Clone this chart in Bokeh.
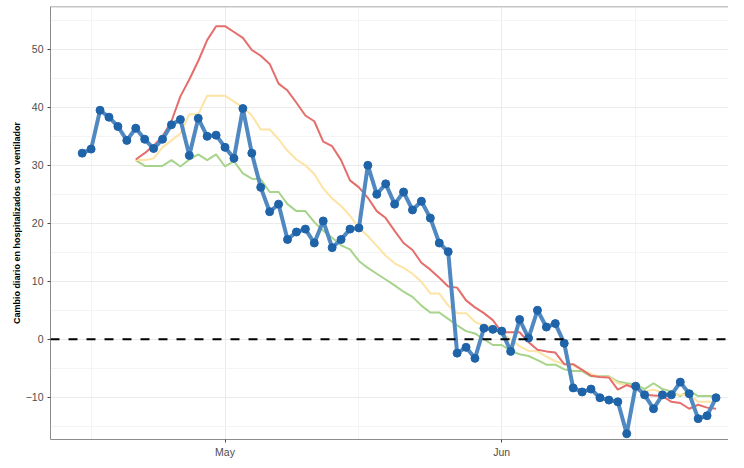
import pandas as pd
from bokeh.plotting import figure
from bokeh.models import FixedTicker, DatetimeTickFormatter, Span, Range1d
from bokeh.embed import file_html
from bokeh.resources import INLINE

# Daily change (blue, observed) from Apr 15 to Jun 25
obs_start = "2020-04-15"
observed = [32.1, 32.8, 39.5, 38.3, 36.7, 34.3, 36.4, 34.5, 32.9, 34.5, 37.0, 37.9, 31.7, 38.1, 35.0, 35.2,
            33.1, 31.2, 39.8, 32.1, 26.2, 22.0, 23.3, 17.2, 18.5, 19.0,
            16.6, 20.4, 15.8, 17.2, 19.0, 19.2, 30.0, 25.0, 26.8, 23.3,
            25.4, 22.3, 23.8, 20.9, 16.6, 15.1, -2.4, -1.4, -3.3, 1.9, 1.7,
            1.4, -2.1, 3.4, 0.2, 5.0, 2.1, 2.7, -0.7, -8.4, -9.1,
            -8.6, -10.1, -10.5, -10.8, -16.3, -8.1, -9.6, -12.0, -9.6, -9.6,
            -7.4, -9.4, -13.7, -13.2, -10.1]

# Smoothed / projected series from Apr 21 to Jun 25
ser_start = "2020-04-21"
red = [31.0, 32.1, 33.4, 35.0, 37.6, 41.9, 44.8, 48.0, 51.6, 54.0,
       54.0, 53.0, 52.0, 49.9, 48.9, 47.5, 44.1, 42.9, 40.8, 38.6,
       37.6, 34.1, 33.3, 30.9, 27.4, 26.2, 24.4, 22.1, 20.9, 18.7,
       16.6, 15.4, 13.2, 12.0, 10.6, 9.1, 8.9, 6.7, 5.5, 4.5, 3.3,
       1.2, 1.2, 1.2, -0.5, -1.8, -2.1, -2.3, -4.3, -4.3, -5.3,
       -6.3, -6.5, -6.6, -8.7, -7.9, -8.5, -9.6, -9.7, -9.8, -10.8,
       -11.0, -12.0, -11.3, -11.8, -12.0]
yellow = [30.9, 30.9, 31.2, 33.1, 34.3, 35.5, 38.8, 38.8, 42.0, 42.0,
          42.0, 41.0, 40.0, 38.6, 36.2, 36.2, 34.5, 32.5, 31.0, 30.0,
          28.5, 26.0, 24.3, 23.0, 21.3, 19.2, 17.8, 16.1, 14.4, 13.1,
          12.3, 11.3, 9.9, 7.9, 7.9, 5.8, 4.5, 4.5, 3.0, 2.4, 2.1,
          1.0, 0.0, -1.2, -2.0, -2.1, -3.0, -3.8, -4.3, -4.5, -5.3,
          -6.0, -6.5, -6.5, -7.6, -7.9, -8.3, -9.0, -8.7, -9.2, -9.5,
          -9.6, -9.6, -10.8, -10.8, -10.8]
green = [30.9, 29.9, 29.9, 29.9, 30.9, 29.8, 31.0, 31.9, 30.9, 31.9,
         29.8, 30.7, 28.6, 27.7, 27.6, 25.4, 25.4, 23.3, 22.1, 22.1,
         20.2, 18.7, 17.5, 16.2, 15.5, 13.5, 12.3, 11.3, 10.3, 9.3,
         8.2, 7.3, 5.8, 4.6, 4.6, 3.5, 2.4, 1.4, 1.0, 0.0, -1.0,
         -1.0, -2.0, -2.6, -2.9, -3.6, -4.4, -4.4, -5.2, -5.5, -5.5,
         -6.4, -6.4, -6.4, -7.3, -7.6, -7.8, -8.6, -7.6, -8.6, -9.0,
         -9.8, -8.9, -9.8, -9.8, -9.8]

y_ticks = [-10, 0, 10, 20, 30, 40, 50]
y_minor = [-15, -5, 5, 15, 25, 35, 45, 55]
x_tick_dates = ["2020-05-01", "2020-06-01"]
x_minor_dates = ["2020-04-16", "2020-05-16", "2020-06-16"]
y_label = "Cambio diario en hospitalizados con ventilador"

obs_dates = pd.date_range(obs_start, periods=len(observed), freq="D")
ser_dates = pd.date_range(ser_start, periods=len(red), freq="D")

def ms(d):
    return pd.Timestamp(d).value / 1e6

day = 86400000.0
may1 = ms("2020-05-01")

p = figure(width=728, height=460, x_axis_type="datetime", output_backend="svg",
           toolbar_location=None, min_border_left=50, min_border_right=0,
           min_border_top=6, min_border_bottom=18)
p.x_range = Range1d(may1 - 19.55 * day, may1 + 56.4 * day)
p.y_range = Range1d(-17.3, 57.4)

p.background_fill_color = "white"
p.border_fill_color = "white"
p.outline_line_color = None

xt = FixedTicker(ticks=[ms(d) for d in x_tick_dates], minor_ticks=[ms(d) for d in x_minor_dates])
p.xaxis.ticker = xt
p.xaxis.formatter = DatetimeTickFormatter(months="%b", days="%b", years="%b")
p.yaxis.ticker = FixedTicker(ticks=y_ticks, minor_ticks=y_minor)

for ax in (p.xaxis, p.yaxis):
    ax.axis_line_color = "#8c8c8c"
    ax.axis_line_width = 1
    ax.major_tick_line_color = "#4d4d4d"
    ax.major_tick_out = 3
    ax.major_tick_in = 0
    ax.minor_tick_line_color = None
    ax.major_label_text_color = "#4d4d4d"
    ax.major_label_text_font = "Liberation Sans"
    ax.major_label_text_font_size = "10.5px"
    ax.major_label_standoff = 3
p.xaxis.major_label_standoff = 2

p.yaxis.axis_label = y_label
p.yaxis.axis_label_text_font = "Liberation Sans"
p.yaxis.axis_label_text_font_style = "bold"
p.yaxis.axis_label_text_font_size = "9px"
p.yaxis.axis_label_text_color = "black"
p.yaxis.axis_label_standoff = 1

p.grid.grid_line_color = "#ebebeb"
p.grid.grid_line_width = 1
p.grid.minor_grid_line_color = "#f4f4f4"
p.grid.minor_grid_line_width = 1

p.add_layout(Span(location=57.4, dimension="width", line_color="#8c8c8c", line_width=1.5))

p.line(ser_dates, green, line_color="#a6d48a", line_width=2)
p.line(ser_dates, yellow, line_color="#fde3a4", line_width=2)
p.line(ser_dates, red, line_color="#e56d6b", line_width=2)

p.add_layout(Span(location=0, dimension="width", line_color="black", line_width=2, line_dash="9 9"))

p.line(obs_dates, observed, line_color="#5089c2", line_width=4)
p.scatter(obs_dates, observed, size=8, fill_color="#1f63a8", line_color="#1f63a8")

open("out.html", "w").write(file_html(p, INLINE))
